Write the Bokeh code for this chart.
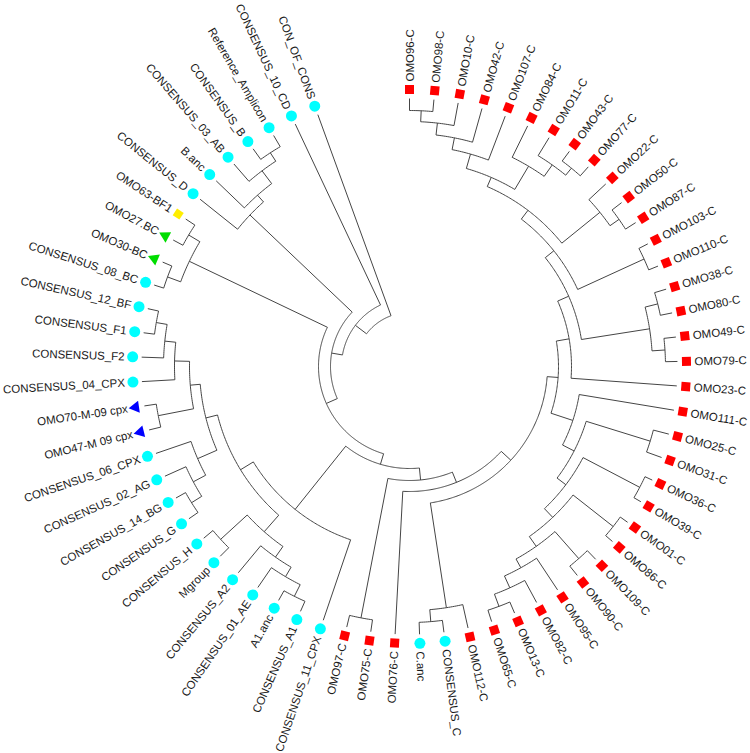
import math
import numpy as np
from bokeh.plotting import figure
from bokeh.models import Range1d
from bokeh.embed import file_html
from bokeh.resources import INLINE
from bokeh.core.properties import value

# ---------------- data: tree topology (children listed clockwise), node radius after ')' ----------------
clade_top = "((((OMO96-C,OMO98-C)256,OMO10-C)245,OMO42-C)233,OMO107-C)221"
clade_x84 = "(OMO84-C,(OMO11-C,(OMO43-C,OMO77-C)256)247)233"
clade_22 = "(OMO22-C,(OMO50-C,OMO87-C)256)245"
clade_103 = "(OMO103-C,OMO110-C)258"
clade_38 = "((OMO38-C,OMO80-C)256,(OMO49-C,OMO79-C)256)243"
clade_ladder = ("((OMO25-C,OMO31-C)252,((OMO36-C,OMO39-C)260,((OMO01-C,OMO86-C)259,"
                "((OMO109-C,OMO90-C)256,(OMO95-C,(OMO82-C,(OMO13-C,OMO65-C)256)243)230)220)208)196)185")
clade_c = "(OMO112-C,(CONSENSUS_C,C.anc)256)244"
clade_75 = "(OMO75-C,OMO97-C)256"
clade_a = "((((CONSENSUS_A1,A1.anc)257,CONSENSUS_01_AE)244,CONSENSUS_A2)233,(Mgroup,CONSENSUS_H)256)220"
clade_g = "(((CONSENSUS_G,CONSENSUS_14_BG)257,CONSENSUS_02_AG)245,CONSENSUS_06_CPX)231"
clade_f = ("((OMO47-M 09 cpx,OMO70-M-09 cpx)256,(CONSENSUS_04_CPX,(CONSENSUS_F2,"
           "(CONSENSUS_F1,CONSENSUS_12_BF)257)246)235)220")
clade_bc = "((CONSENSUS_08_BC,OMO30-BC)258,(OMO27.BC,OMO63-BF1)257)244"
clade_bd = "(CONSENSUS_D,(B.anc,(CONSENSUS_03_AB,(CONSENSUS_B,Reference_Amplicon)255)245)229)220"

red_tips_prefix = "OMO"
green_tips = ["OMO27.BC", "OMO30-BC"]
blue_tips = ["OMO47-M 09 cpx", "OMO70-M-09 cpx"]
yellow_tips = ["OMO63-BF1"]

# compose the whole tree
c_top = f"({clade_top},{clade_x84})206"
c_z = f"({c_top},{clade_22})196"
c_y = f"({c_z},{clade_103})185"
c_v = f"({c_y},{clade_38})174"
c_u = f"({c_v},OMO23-C)162"
c_l2 = f"(OMO111-C,{clade_ladder})172"
c_l = f"({c_u},{c_l2})149"
c_k = f"({c_l},{clade_c})138"
c_n = f"({c_k},OMO76-C)125"
c_m = f"({c_n},{clade_75})114"
c_t = f"({clade_g},{clade_f})210"
c_ag2 = f"({clade_a},{c_t})198"
c_ag = f"(CONSENSUS_11_CPX,{c_ag2})183"
c_x = f"({c_m},{c_ag})102"
c_s = f"({c_x},{clade_bc})91"
c_r = f"({c_s},{clade_bd})79"
c_q = f"({c_r},CONSENSUS_10_CD)68"
newick = f"({c_q},CON_OF_CONS)54"

# ---------------- layout parameters ----------------
R_TIP = 268.0
R_MARK = 277.0
R_LABEL = 285.0
SPAN = 340.0
W, H = 750, 753
CX, CY = 409, 366


def parse(s):
    pos = 0

    def node():
        nonlocal pos
        if s[pos] == "(":
            pos += 1
            kids = [node()]
            while s[pos] == ",":
                pos += 1
                kids.append(node())
            pos += 1  # ')'
            st = pos
            while pos < len(s) and s[pos] not in ",()":
                pos += 1
            return {"kids": kids, "r": float(s[st:pos])}
        st = pos
        while pos < len(s) and s[pos] not in ",()":
            pos += 1
        return {"name": s[st:pos].strip()}

    return node()


tree = parse(newick)
tips = []


def collect(n):
    if "kids" in n:
        for k in n["kids"]:
            collect(k)
    else:
        tips.append(n)


collect(tree)
STEP = SPAN / (len(tips) - 1)
for i, t in enumerate(tips):
    t["phi"] = i * STEP
    t["r"] = R_TIP


def set_phi(n):
    if "kids" in n:
        for k in n["kids"]:
            set_phi(k)
        n["phi"] = (n["kids"][0]["phi"] + n["kids"][-1]["phi"]) / 2.0


set_phi(tree)


def pol(r, phi):
    a = np.radians(phi)
    return r * np.sin(a), r * np.cos(a)


xs, ys = [], []


def draw(n):
    if "kids" not in n:
        return
    a0, a1 = n["kids"][0]["phi"], n["kids"][-1]["phi"]
    m = max(2, int(abs(a1 - a0) / 0.5) + 2)
    ph = np.linspace(a0, a1, m)
    x, y = pol(n["r"], ph)
    xs.append(list(x))
    ys.append(list(y))
    for k in n["kids"]:
        x0, y0 = pol(n["r"], k["phi"])
        x1, y1 = pol(k["r"], k["phi"])
        xs.append([float(x0), float(x1)])
        ys.append([float(y0), float(y1)])
        draw(k)


draw(tree)

p = figure(width=W, height=H, x_range=Range1d(-CX, W - CX), y_range=Range1d(CY - H, CY),
           output_backend="svg", toolbar_location=None, min_border=0,
           x_axis_location=None, y_axis_location=None)
p.grid.visible = False
p.outline_line_color = None
p.background_fill_color = "white"

p.multi_line(xs, ys, line_color="#454545", line_width=1)

# markers
groups = {
    "cyan": dict(x=[], y=[], a=[]),
    "red": dict(x=[], y=[], a=[]),
    "green": dict(x=[], y=[], a=[]),
    "blue": dict(x=[], y=[], a=[]),
    "yellow": dict(x=[], y=[], a=[]),
}
for t in tips:
    nm = t["name"]
    if nm in green_tips:
        g = "green"
    elif nm in blue_tips:
        g = "blue"
    elif nm in yellow_tips:
        g = "yellow"
    elif nm.startswith(red_tips_prefix):
        g = "red"
    else:
        g = "cyan"
    x, y = pol(R_MARK, t["phi"])
    groups[g]["x"].append(float(x))
    groups[g]["y"].append(float(y))
    groups[g]["a"].append(-math.radians(t["phi"]))

p.scatter(groups["cyan"]["x"], groups["cyan"]["y"], marker="circle", size=11,
          fill_color="#00FFFF", line_color=None)
p.scatter(groups["red"]["x"], groups["red"]["y"], marker="square", size=9,
          angle=groups["red"]["a"], fill_color="#FF0000", line_color=None)
p.scatter(groups["green"]["x"], groups["green"]["y"], marker="triangle", size=12,
          angle=groups["green"]["a"], fill_color="#00DD00", line_color=None)
p.scatter(groups["blue"]["x"], groups["blue"]["y"], marker="triangle", size=12,
          angle=groups["blue"]["a"], fill_color="#0000FF", line_color=None)
p.scatter(groups["yellow"]["x"], groups["yellow"]["y"], marker="square", size=8,
          angle=groups["yellow"]["a"], fill_color="#FFEE00", line_color=None)

# labels
R_side = dict(x=[], y=[], t=[], a=[])
L_side = dict(x=[], y=[], t=[], a=[])
for t in tips:
    x, y = pol(R_LABEL, t["phi"])
    if t["phi"] < 180:
        d = R_side
        ang = math.radians(90 - t["phi"])
    else:
        d = L_side
        ang = math.radians(270 - t["phi"])
    d["x"].append(float(x))
    d["y"].append(float(y))
    d["t"].append(t["name"])
    d["a"].append(ang)

p.text(R_side["x"], R_side["y"], text=R_side["t"], angle=R_side["a"], text_align="left",
       text_baseline="middle", text_font=value("Liberation Sans"), text_font_size="11.5px",
       text_color="#1a1a1a")
p.text(L_side["x"], L_side["y"], text=L_side["t"], angle=L_side["a"], text_align="right",
       text_baseline="middle", text_font=value("Liberation Sans"), text_font_size="11.5px",
       text_color="#1a1a1a")

open("out.html", "w").write(file_html(p, INLINE))
